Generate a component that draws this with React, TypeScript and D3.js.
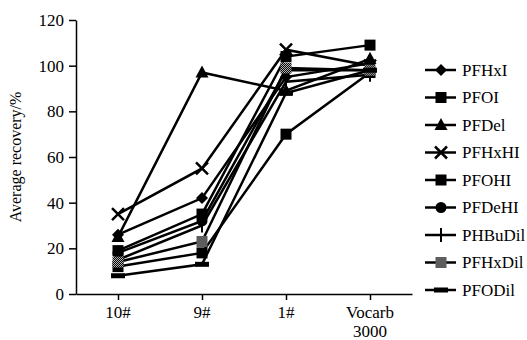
import React, {useEffect, useRef} from "react";
import * as d3 from "d3";

const categories = ["10#", "9#", "1#", "Vocarb 3000"];
const yTicks = [0, 20, 40, 60, 80, 100, 120];

const seriesNames = ["PFHxI", "PFOI", "PFDel", "PFHxHI", "PFOHI", "PFDeHI", "PHBuDil", "PFHxDil", "PFODil"];
const seriesMarkers = ["diamond", "square", "triangle", "x", "square", "circle", "plus", "checker", "bar"];

const pfhxi = [26, 42, 95, 101];
const pfoi = [12, 18, 70, 97];
const pfdel = [25, 97, 89, 103];
const pfhxhi = [35, 55, 107, 100];
const pfohi = [19, 35, 104, 109];
const pfdehi = [18, 32, 98, 98];
const phbudil = [15, 30, 93, 96];
const pfhxdil = [14, 23, 99, 98];
const pfodil = [8, 13, 88, 98];

const seriesValues = [pfhxi, pfoi, pfdel, pfhxhi, pfohi, pfdehi, phbudil, pfhxdil, pfodil];

const FONT = "Liberation Serif";

function drawMarker(g, type, x, y)
{
    const m = g.append("g").attr("transform", `translate(${x},${y})`);
    if (type === "diamond") {
        m.append("path").attr("d", "M0,-6L6,0L0,6L-6,0Z").attr("fill", "#000");
    } else if (type === "square") {
        m.append("rect").attr("x", -5.5).attr("y", -5.5).attr("width", 11).attr("height", 11).attr("fill", "#000");
    } else if (type === "triangle") {
        m.append("path").attr("d", "M0,-7L6.5,5L-6.5,5Z").attr("fill", "#000");
    } else if (type === "x") {
        m.append("path").attr("d", "M-6,-6L6,6M-6,6L6,-6").attr("stroke", "#000").attr("stroke-width", 2.5);
    } else if (type === "circle") {
        m.append("circle").attr("r", 5.5).attr("fill", "#000");
    } else if (type === "plus") {
        m.append("path").attr("d", "M0,-7L0,7").attr("stroke", "#000").attr("stroke-width", 2);
    } else if (type === "checker") {
        m.append("rect").attr("x", -5.5).attr("y", -5.5).attr("width", 11).attr("height", 11).attr("fill", "url(#checker)");
    } else if (type === "bar") {
        m.append("rect").attr("x", -7).attr("y", -2.5).attr("width", 14).attr("height", 5).attr("fill", "#000");
    }
}

export default function App()
{
    const ref = useRef(null);

    useEffect(() => {
        const svg = d3.select(ref.current);
        svg.selectAll("*").remove();

        const left = 76, right = 412, top = 20, bottom = 294;

        const defs = svg.append("defs");
        const pat = defs.append("pattern")
            .attr("id", "checker")
            .attr("width", 2).attr("height", 2)
            .attr("patternUnits", "userSpaceOnUse");
        pat.append("rect").attr("width", 2).attr("height", 2).attr("fill", "#000");
        pat.append("rect").attr("width", 1).attr("height", 1).attr("fill", "#bbb");
        pat.append("rect").attr("x", 1).attr("y", 1).attr("width", 1).attr("height", 1).attr("fill", "#bbb");

        const xScale = d3.scalePoint()
            .domain(categories)
            .range([left, right])
            .padding(0.5);

        const yScale = d3.scaleLinear()
            .domain([0, 120])
            .range([bottom, top]);

        // axes
        const yAxis = svg.append("g")
            .attr("transform", `translate(${left},0)`)
            .call(d3.axisLeft(yScale).tickValues(yTicks).tickSize(7).tickSizeOuter(0));
        yAxis.select(".domain").attr("stroke-width", 1.5);
        yAxis.selectAll(".tick line").attr("stroke-width", 1.5);
        yAxis.selectAll("text")
            .style("font-family", FONT)
            .attr("font-size", 17)
            .attr("fill", "#000")
            .attr("x", -12);

        const xAxis = svg.append("g")
            .attr("transform", `translate(0,${bottom})`)
            .call(d3.axisBottom(xScale).tickSize(6).tickSizeOuter(0).tickFormat(() => ""));
        xAxis.select(".domain").attr("stroke-width", 1.5);
        xAxis.selectAll(".tick line").attr("stroke-width", 1.5);

        categories.forEach(c => {
            const parts = c.split(" ");
            parts.forEach((p, i) => {
                svg.append("text")
                    .attr("x", xScale(c))
                    .attr("y", bottom + 24 + i * 19)
                    .attr("text-anchor", "middle")
                    .style("font-family", FONT)
                    .attr("font-size", 17)
                    .text(p);
            });
        });

        svg.append("text")
            .attr("transform", `translate(21, ${(top + bottom) / 2}) rotate(-90)`)
            .attr("text-anchor", "middle")
            .style("font-family", FONT)
            .attr("font-size", 16)
            .text("Average recovery/%");

        // lines
        const line = d3.line()
            .x((d, i) => xScale(categories[i]))
            .y(d => yScale(d));

        seriesValues.forEach(vals => {
            svg.append("path")
                .attr("d", line(vals))
                .attr("fill", "none")
                .attr("stroke", "#000")
                .attr("stroke-width", 2.5);
        });

        seriesValues.forEach((vals, s) => {
            vals.forEach((v, i) => drawMarker(svg, seriesMarkers[s], xScale(categories[i]), yScale(v)));
        });

        // legend
        const legendY = d3.scalePoint().domain(seriesNames).range([70, 290]);
        seriesNames.forEach((name, s) => {
            const y = legendY(name);
            svg.append("line")
                .attr("x1", 425).attr("x2", 456)
                .attr("y1", y).attr("y2", y)
                .attr("stroke", "#000").attr("stroke-width", 2.5);
            drawMarker(svg, seriesMarkers[s], 441, y);
            svg.append("text")
                .attr("x", 462)
                .attr("y", y)
                .attr("dy", "0.35em")
                .style("font-family", FONT)
                .attr("font-size", 17)
                .text(name);
        });
    }, []);

    return (
        <svg ref={ref} width={527} height={340} style={{position: "absolute", left: 0, top: 0, background: "#fff"}}></svg>
    );
}
